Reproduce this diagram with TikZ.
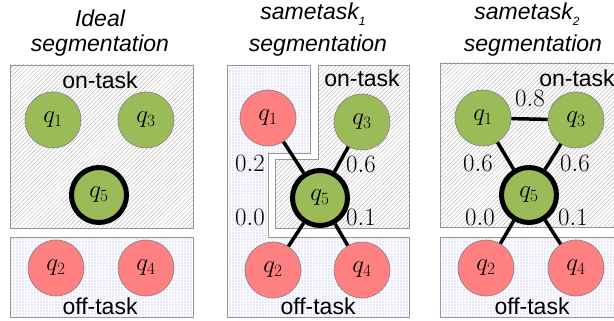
\documentclass[tikz,border=0pt]{standalone}
\usepackage{fontspec}
\setmainfont{Liberation Sans}
\usetikzlibrary{patterns.meta}
\definecolor{qgreen}{RGB}{155,187,89}
\definecolor{qred}{RGB}{255,128,128}
\definecolor{offbg}{RGB}{232,232,250}
\definecolor{boxgray}{RGB}{150,150,150}
\begin{document}
\begin{tikzpicture}[x=1pt,y=-1pt,
  ontask/.style={draw=boxgray, line width=0.8pt, preaction={fill=white},
    pattern={Lines[angle=45,distance=3pt,line width=0.5pt]}, pattern color=gray!55},
  offtask/.style={draw=boxgray, line width=0.8pt, preaction={fill=offbg},
    pattern={Hatch[angle=0,distance=3pt,line width=0.6pt]}, pattern color=white},
  qn/.style={circle, minimum size=56pt, inner sep=0pt, draw=gray, line width=0.6pt,
    font=\fontsize{23}{23}\selectfont},
  qon/.style={qn, fill=qgreen},
  qoff/.style={qn, fill=qred},
  qc/.style={circle, minimum size=55pt, inner sep=0pt, fill=qgreen, draw=black,
    line width=5pt, font=\fontsize{23}{23}\selectfont},
  lbl/.style={font=\fontsize{23}{23}\selectfont, inner sep=0pt},
  ttl/.style={font=\fontsize{23}{23}\selectfont\itshape, anchor=base, inner sep=0pt},
  wedge/.style={line width=3.5pt, black}
]
\useasboundingbox (0,0) rectangle (614,321);
\fill[white] (0,0) rectangle (614,321);

% ---------- Panel 1 ----------
\node[ttl] (t1a) at (100,27) {Ideal};
\node[ttl] (t1b) at (100,52) {segmentation};
\draw[ontask] (10,65) rectangle (193,228);
\draw[offtask] (10,237) rectangle (193,317);
\node[lbl] (on1) at (100,80) {on-task};
\node[lbl] (off1) at (100,306) {off-task};
\node[qon] (a1) at (53,120) {$q_1$};
\node[qon] (a3) at (146,120) {$q_3$};
\node[qc] (a5) at (99,195) {$q_5$};
\node[qoff] (a2) at (56,268) {$q_2$};
\node[qoff] (a4) at (146,268) {$q_4$};

% ---------- Panel 2 ----------
\node[ttl] (t2a) at (313,20) {sametask\raisebox{-0.45ex}{\fontsize{12}{12}\selectfont 1}};
\node[ttl] (t2b) at (318,52) {segmentation};
\draw[offtask] (227,65) -- (310,65) -- (310,153) -- (268,153) -- (268,237)
  -- (409,237) -- (409,317) -- (227,317) -- cycle;
\draw[ontask] (318,65) -- (409,65) -- (409,228) -- (275,228) -- (275,159)
  -- (318,159) -- cycle;
\node[lbl] (on2) at (362,78) {on-task};
\node[lbl] (off2) at (318,306) {off-task};
\node[qoff] (b1) at (268,118) {$q_1$};
\node[qon] (b3) at (362,122) {$q_3$};
\node[qc] (b5) at (320,198) {$q_5$};
\node[qoff] (b2) at (273,270) {$q_2$};
\node[qoff] (b4) at (362,270) {$q_4$};
\draw[wedge] (b5) -- (b1);
\draw[wedge] (b5) -- (b3);
\draw[wedge] (b5) -- (b2);
\draw[wedge] (b5) -- (b4);
\node[lbl] (n21) at (250,163) {$0.2$};
\node[lbl] (n23) at (361,164) {$0.6$};
\node[lbl] (n22) at (250,217) {$0.0$};
\node[lbl] (n24) at (361,217) {$0.1$};

% ---------- Panel 3 ----------
\node[ttl] (t3a) at (527,20) {sametask\raisebox{-0.45ex}{\fontsize{12}{12}\selectfont 2}};
\node[ttl] (t3b) at (533,52) {segmentation};
\draw[ontask] (440,63) rectangle (625,227);
\draw[offtask] (440,237) rectangle (625,317);
\node[lbl] (on3) at (577,78) {on-task};
\node[lbl] (off3) at (532,306) {off-task};
\node[qon] (c1) at (483,118) {$q_1$};
\node[qon] (c3) at (576,120) {$q_3$};
\node[qc] (c5) at (529,195) {$q_5$};
\node[qoff] (c2) at (486,268) {$q_2$};
\node[qoff] (c4) at (576,268) {$q_4$};
\draw[wedge] (c1) -- (c3);
\draw[wedge] (c5) -- (c1);
\draw[wedge] (c5) -- (c3);
\draw[wedge] (c5) -- (c2);
\draw[wedge] (c5) -- (c4);
\node[lbl] (n3t) at (530,98) {$0.8$};
\node[lbl] (n31) at (478,163) {$0.6$};
\node[lbl] (n33) at (575,163) {$0.6$};
\node[lbl] (n32) at (480,217) {$0.0$};
\node[lbl] (n34) at (573,217) {$0.1$};
\end{tikzpicture}
\end{document}
